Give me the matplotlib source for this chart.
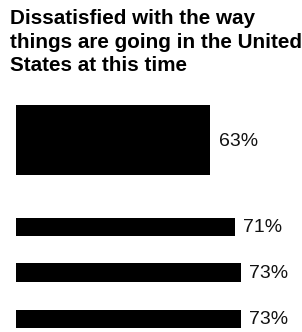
import matplotlib
matplotlib.use("Agg")
import matplotlib.pyplot as plt

title = "Dissatisfied with the way\nthings are going in the United\nStates at this time"
values = [63, 71, 73, 73]
labels = ["63%", "71%", "73%", "73%"]

# layout (pixels, from top of figure)
W, H = 302, 332
centers = [140, 227, 272, 319]
heights = [70, 18, 19, 18]
x0 = 16          # pixel where 0% sits
px_per_pct = 3.08

fig = plt.figure(figsize=(W / 100, H / 100), dpi=100)
ax = fig.add_axes([x0 / W, 0, 1 - x0 / W, 1])
ax.set_xlim(0, (W - x0) / px_per_pct)
ax.set_ylim(H, 0)
ax.axis("off")

ax.barh(centers, values, height=heights, color="black", left=0)
for c, v, lab in zip(centers, values, labels):
    ax.text(v + 2.8, c + 1, lab, va="center", ha="left",
            fontsize=14, family="Liberation Sans", color="#111111")

fig.text(10 / W, 1 - 9 / H, title, va="top", ha="left", fontsize=14.9,
         fontweight="bold", family="Liberation Sans", linespacing=1.3)

fig.savefig("out.png", dpi=100)
